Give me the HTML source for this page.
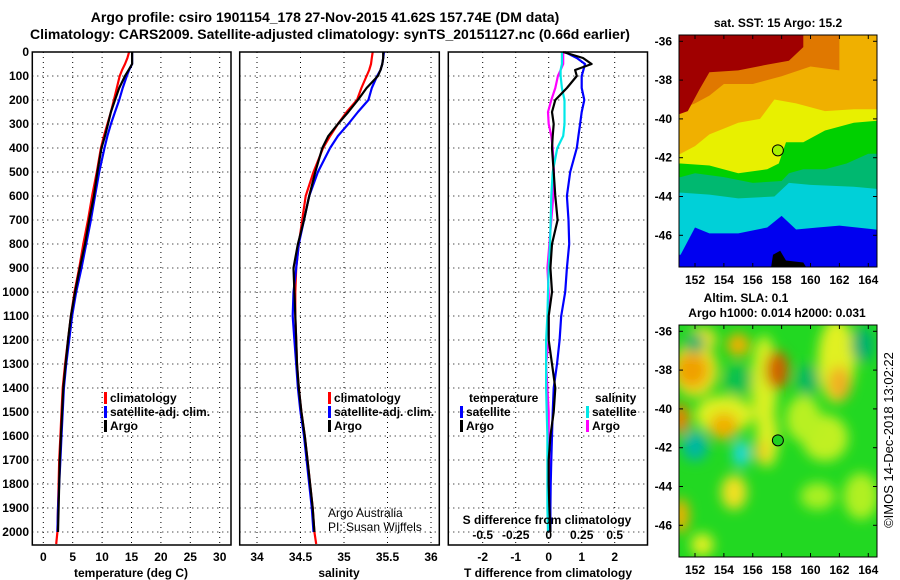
<!DOCTYPE html>
<html><head><meta charset="utf-8"><style>
html,body{margin:0;padding:0;background:#fff;}
svg{display:block;font-family:"Liberation Sans",sans-serif;}
.t{font-weight:bold;font-size:12px;fill:#000;}
.ti{font-weight:bold;font-size:14px;fill:#000;}
</style></head><body>
<svg id="fig" width="900" height="580" viewBox="0 0 900 580" xmlns="http://www.w3.org/2000/svg">
<defs>
<clipPath id="c1"><rect x="679" y="35" width="198" height="232"/></clipPath>
<clipPath id="c2"><rect x="679" y="325" width="198" height="232"/></clipPath>
<filter id="bl" x="-50%" y="-50%" width="200%" height="200%"><feGaussianBlur stdDeviation="6"/></filter>
</defs>
<text class="ti" x="325" y="22" text-anchor="middle">Argo profile: csiro 1901154_178 27-Nov-2015 41.62S 157.74E (DM data)</text>
<text class="ti" x="330" y="39" text-anchor="middle">Climatology: CARS2009. Satellite-adjusted climatology: synTS_20151127.nc (0.66d earlier)</text>
<g id="panels"></g>
<g id="maps"></g>
<text class="t" x="893" y="440" transform="rotate(-90 893 440)" text-anchor="middle" style="font-weight:normal;font-size:13px">©IMOS 14-Dec-2018 13:02:22</text>
</svg>
<script>
const depths=[0,25,50,75,100,150,200,250,300,350,400,500,600,700,800,900,1000,1100,1200,1300,1400,1500,1600,1700,1800,1900,2000,2050];
const tempClim=[14.6,14.3,13.9,13.4,13.0,12.5,12.0,11.5,10.9,10.3,9.8,9.1,8.3,7.6,6.8,6.1,5.3,4.7,4.2,3.7,3.3,3.1,2.9,2.7,2.6,2.5,2.4,2.2];
const tempSat=[15.1,15.1,15.1,14.6,14.2,13.5,12.9,12.2,11.5,10.9,10.4,9.5,8.8,8.1,7.3,6.5,5.6,4.9,4.4,3.9,3.5,3.3,3.1,2.9,2.7,2.5,2.4,null];
const tempArgo=[15.1,15.1,15.1,14.5,13.9,12.9,12.2,11.5,11.0,10.5,9.9,9.2,8.6,7.8,7.1,6.2,5.4,4.7,4.2,3.8,3.4,3.2,3.0,2.8,2.7,2.6,2.5,null];
const salClim=[35.33,35.32,35.31,35.29,35.26,35.20,35.15,35.03,34.93,34.84,34.76,34.65,34.56,34.52,34.48,34.45,34.44,34.44,34.45,34.46,34.48,34.51,34.55,34.58,34.61,34.64,34.66,34.68];
const salSat=[35.46,35.45,35.44,35.42,35.38,35.32,35.28,35.16,35.05,34.93,34.84,34.70,34.60,34.54,34.48,34.45,34.42,34.41,34.43,34.45,34.47,34.50,34.54,34.57,34.60,34.63,34.65,null];
const salArgo=[35.45,35.45,35.44,35.42,35.39,35.26,35.16,35.05,34.93,34.82,34.75,34.67,34.60,34.54,34.47,34.42,34.43,34.44,34.45,34.46,34.48,34.51,34.55,34.58,34.61,34.64,34.66,null];
const dTsat=[0.49,0.85,1.1,1.05,1.0,1.0,1.08,1.0,0.95,0.9,0.85,0.65,0.55,0.6,0.62,0.55,0.5,0.38,0.33,0.25,0.15,0.12,0.1,0.08,0.06,0.05,0.05,null];
const dTargo=[0.44,1.04,1.3,0.8,0.85,0.55,0.2,0.1,0.15,0.12,0.1,0.15,0.2,0.27,0.1,0.05,0.1,0.0,0.0,0.1,0.2,0.15,0.05,0.0,0.0,0.02,0.05,null];
const dSsat=[0.1,0.1,0.1,0.09,0.09,0.1,0.12,0.12,0.12,0.11,0.065,0.03,0.02,0.015,0.01,0.0,-0.005,-0.01,-0.02,-0.02,-0.02,-0.015,-0.01,-0.01,-0.01,-0.01,-0.005,null];
const dSargo=[0.11,0.11,0.11,0.09,0.07,0.05,0.02,-0.005,0.0,0.02,0.03,0.04,0.035,0.02,0.005,-0.01,0.0,0.0,0.0,-0.02,-0.01,0.0,0.0,0.005,0.01,0.01,0.01,null];
const depthTicks=[0,100,200,300,400,500,600,700,800,900,1000,1100,1200,1300,1400,1500,1600,1700,1800,1900,2000];
const tempTicks=[0,5,10,15,20,25,30];
const salTicks=[34,34.5,35,35.5,36];
const dTTicks=[-2,-1,0,1,2];
const dSTicks=[-0.5,-0.25,0,0.25,0.5];

const NS="http://www.w3.org/2000/svg";
function mk(tag,attrs,parent){const e=document.createElementNS(NS,tag);for(const k in attrs)e.setAttribute(k,attrs[k]);parent.appendChild(e);return e;}
const yD=d=>52+d*0.24;
const PT={x0:32.3,x1:231,f:v=>43.3+v*5.88};
const PS={x0:239.7,x1:439.3,f:v=>257+(v-34)*87};
const PD={x0:448.3,x1:647.5,f:v=>548.7+v*33};
const fS=v=>548.7+v*132;
const Y0=52,Y1=545;
const panels=document.getElementById('panels');

function frame(p,name){
  const g=mk('g',{},panels);
  
  
  return g;
}
function grid(g,p,xticks,fx){
  depthTicks.forEach(d=>{const y=yD(d);const l=mk('line',{x1:p.x0,x2:p.x1,y1:y,y2:y,stroke:'#000','stroke-width':1,'stroke-dasharray':'1,4'},g);
  });
  xticks.forEach(v=>{const x=fx(v);const l=mk('line',{x1:x,x2:x,y1:Y0,y2:Y1,stroke:'#000','stroke-width':1,'stroke-dasharray':'1,4'},g);
  });
}
function border(g,p){const r=mk('rect',{x:p.x0,y:Y0,width:p.x1-p.x0,height:Y1-Y0,fill:'none',stroke:'#000','stroke-width':1.5},g);
  }
function line(g,vals,fx,color,name){
  let pts=[];
  depths.forEach((d,i)=>{if(vals[i]!==null&&vals[i]!==undefined)pts.push(fx(vals[i]).toFixed(1)+','+yD(d).toFixed(1));});
  const l=mk('polyline',{points:pts.join(' '),fill:'none',stroke:color,'stroke-width':2.2,'stroke-linejoin':'round'},g);
  
  
}
function xtickLabels(g,ticks,fx,y){
  ticks.forEach(v=>{const t=mk('text',{x:fx(v),y:y,'text-anchor':'middle',class:'t'},g);t.textContent=String(v);
  });
}
function legendItem(g,x,y,color,label){
  const r=mk('rect',{x:x,y:y-10,width:3,height:12,fill:color},g);
  
  const t=mk('text',{x:x+6,y:y,class:'t'},g);t.textContent=label;
  
}
function text(g,x,y,s,name,anchor,cls){const t=mk('text',{x:x,y:y,class:cls||'t','text-anchor':anchor||'start'},g);t.textContent=s;
  return t;}

let g=frame(PT,'temperature-panel');
grid(g,PT,tempTicks,PT.f);
line(g,tempClim,PT.f,'#ff0000','temp-climatology-line');
line(g,tempSat,PT.f,'#0000ff','temp-satellite-line');
line(g,tempArgo,PT.f,'#000000','temp-argo-line');
border(g,PT);
depthTicks.forEach(d=>{text(g,29,yD(d)+4,String(d),'y-tick-label','end');});
xtickLabels(g,tempTicks,PT.f,561);
text(g,131,577,'temperature (deg C)','x-axis-title','middle');
legendItem(g,104,402,'#ff0000','climatology');
legendItem(g,104,416,'#0000ff','satellite-adj. clim.');
legendItem(g,104,430,'#000000','Argo');

g=frame(PS,'salinity-panel');
grid(g,PS,salTicks,PS.f);
line(g,salClim,PS.f,'#ff0000','sal-climatology-line');
line(g,salSat,PS.f,'#0000ff','sal-satellite-line');
line(g,salArgo,PS.f,'#000000','sal-argo-line');
border(g,PS);
xtickLabels(g,salTicks,PS.f,561);
text(g,339,577,'salinity','x-axis-title','middle');
legendItem(g,328,402,'#ff0000','climatology');
legendItem(g,328,416,'#0000ff','satellite-adj. clim.');
legendItem(g,328,430,'#000000','Argo');
let a=text(g,328,517,'Argo Australia','credit-text');a.setAttribute('style','font-weight:normal');
a=text(g,328,531,'PI: Susan Wijffels','credit-text');a.setAttribute('style','font-weight:normal');

g=frame(PD,'difference-panel');
grid(g,PD,dTTicks,PD.f);
line(g,dSargo,fS,'#ff00ff','sal-diff-argo-line');
line(g,dSsat,fS,'#00e8e8','sal-diff-satellite-line');
line(g,dTsat,PD.f,'#0000ff','temp-diff-satellite-line');
line(g,dTargo,PD.f,'#000000','temp-diff-argo-line');
border(g,PD);
xtickLabels(g,dTTicks,PD.f,561);
text(g,548,577,'T difference from climatology','x-axis-title','middle');
text(g,547,524,'S difference from climatology','s-axis-title','middle');
xtickLabels(g,dSTicks,fS,539);
text(g,469,402,'temperature','legend-title');
legendItem(g,460,416,'#0000ff','satellite');
legendItem(g,460,430,'#000000','Argo');
text(g,595,402,'salinity','legend-title');
legendItem(g,586,416,'#00e8e8','satellite');
legendItem(g,586,430,'#ff00ff','Argo');

const maps=document.getElementById('maps');
const lonX=lon=>695+(lon-152)*14.44;
const latY=(lat,off)=>41.3+(-36-lat)*19.4+off;
const lonTicks=[152,154,156,158,160,162,164];
const latTicks=[-36,-38,-40,-42,-44,-46];
function poly(gp,ptsArr,off,color,name){
  const pts=ptsArr.map(p=>lonX(p[0]).toFixed(1)+','+latY(p[1],off).toFixed(1));
  const p=mk('polygon',{points:pts.join(' '),fill:color},gp);
  
}
function mapAxes(gm,off,name){
  const r=mk('rect',{x:679,y:35+off,width:198,height:232,fill:'none',stroke:'#000','stroke-width':1},gm);
  
  lonTicks.forEach(v=>{const x=lonX(v);
    mk('line',{x1:x,x2:x,y1:35+off,y2:39+off,stroke:'#000'},gm);
    mk('line',{x1:x,x2:x,y1:267+off,y2:263+off,stroke:'#000'},gm);
    const t=mk('text',{x:x,y:284+off,'text-anchor':'middle',class:'t'},gm);t.textContent=String(v);
    });
  latTicks.forEach(v=>{const y=latY(v,off);
    mk('line',{x1:679,x2:683,y1:y,y2:y,stroke:'#000'},gm);
    mk('line',{x1:877,x2:873,y1:y,y2:y,stroke:'#000'},gm);
    const t=mk('text',{x:672,y:y+4,'text-anchor':'end',class:'t'},gm);t.textContent=String(v);
    });
}
let gm=mk('g',{},maps);


let gc=mk('g',{'clip-path':'url(#c1)'},gm);
mk('rect',{x:679,y:35,width:198,height:232,fill:'#0000f0'},gc);
const T=-34;
poly(gc,[[150,T],[166,T],[166,-46.0],[164.5,-45.7],[162,-45.5],[160.5,-45.6],[159,-45.7],[158,-45.0],[157,-45.6],[155,-45.9],[153,-45.9],[152,-45.6],[151.5,-46.3],[151,-47],[150,-47]],0,'#00d0d8','sst-cyan-band');
poly(gc,[[150,T],[166,T],[166,-43.7],[163,-43.5],[160,-43.4],[158.5,-43.3],[157.5,-44.0],[155,-44.1],[153,-43.9],[151,-43.8],[150,-43.8]],0,'#00b870','sst-teal-band');
poly(gc,[[150,T],[166,T],[166,-41.8],[164,-41.8],[162.5,-42.3],[161,-42.6],[159.5,-42.6],[158.5,-42.8],[158,-43.2],[156,-43.3],[154,-43.0],[152,-42.8],[151,-43],[150,-43]],0,'#00d000','sst-green-band');
poly(gc,[[150,T],[166,T],[166,-40.0],[163,-40.2],[161,-40.6],[159.5,-41.2],[158.3,-41.2],[157.8,-42.3],[157,-42.6],[155,-42.8],[153,-42.4],[151,-42.3],[150,-42.3]],0,'#e8f000','sst-yellow-band');
poly(gc,[[150,T],[166,T],[166,-39.5],[163,-39.5],[161,-39.6],[159,-39.2],[157.5,-39.0],[156.5,-40],[155,-40.2],[153,-40.8],[152,-41.4],[151,-41.8],[150,-42]],0,'#f0b000','sst-orange-band');
poly(gc,[[150,T],[162,T],[162,-37.5],[160,-37.3],[158,-37.8],[156,-38.2],[154,-38.2],[153,-38.8],[152,-39.2],[151,-39.5],[150,-39.5]],0,'#e07800','sst-darkorange-band');
poly(gc,[[150,T],[159.5,T],[159.5,-36.3],[158.5,-37.0],[157,-37.2],[155,-37.5],[153,-37.6],[152.3,-38.5],[151.5,-39.6],[150,-40]],0,'#a00000','sst-darkred-band');
poly(gc,[[157.2,-48],[157.4,-47.0],[157.9,-46.8],[158.3,-47.3],[159.5,-47.4],[160,-48]],0,'#000000','sst-black-patch');
let c=mk('circle',{cx:lonX(157.74),cy:latY(-41.62,0),r:5.5,fill:'#a8f000',stroke:'#000','stroke-width':1},gm);

mapAxes(gm,0,'sst-map-frame');
text(gm,778,27,'sat. SST: 15 Argo: 15.2','sst-map-title','middle');

gm=mk('g',{},maps);


gc=mk('g',{'clip-path':'url(#c2)'},gm);
mk('rect',{x:679,y:325,width:198,height:232,fill:'#22d822'},gc);
const bg=mk('g',{filter:'url(#bl)'},gc);
const blobs=[
[156.8,-38.8,0.9,2.6,'#d8f020'],[157,-41.5,0.8,1.5,'#d8f020'],[161.8,-37.5,1.3,2.2,'#e0f020'],[161,-41.5,1.6,1.2,'#c0f020'],
[154,-40.3,2.0,1.0,'#e0f020'],[152,-38,1.6,1.4,'#e8e020'],[159.5,-40.5,1.2,1.2,'#b8f020'],[163.5,-44.5,1.2,1.2,'#b0f020'],
[151.8,-38,1.1,0.9,'#f0a000'],[154,-40.9,1.0,0.7,'#f0b000'],[151,-40.5,0.6,0.8,'#f08000'],[157.7,-38,0.8,1,'#d06000'],
[155,-36.7,0.8,0.6,'#f0b000'],[162,-38.7,0.8,0.9,'#f0b020'],[151,-45.5,0.6,0.9,'#f0b000'],[154.7,-44.3,0.9,0.9,'#f0e020'],
[152.5,-36.4,1,0.6,'#f0e020'],[156.6,-42.2,0.5,0.6,'#f0d020'],[152.5,-47,0.8,0.6,'#e0f020'],[160.5,-44.5,1.2,0.7,'#a8f020'],
[152,-41.9,0.9,0.8,'#00b8a0'],[155.2,-42.3,0.6,0.7,'#20d8d8'],[152,-36.6,0.7,0.5,'#00b070'],[163.6,-36.7,0.8,0.9,'#00b070'],
[159.8,-38.5,0.8,0.8,'#10b860'],[155,-38.5,1,0.8,'#10c050']];
blobs.forEach(b=>{const e=mk('ellipse',{cx:lonX(b[0]),cy:latY(b[1],290),rx:b[2]*14.44,ry:b[3]*19.4,fill:b[4]},bg);
  });
c=mk('circle',{cx:lonX(157.74),cy:latY(-41.62,290),r:5.5,fill:'#20d020',stroke:'#000','stroke-width':1},gm);

mapAxes(gm,290,'sla-map-frame');
text(gm,746,302,'Altim. SLA: 0.1','sla-map-title','middle');
text(gm,777,317,'Argo h1000: 0.014 h2000: 0.031','sla-map-subtitle','middle');
</script>
</body></html>
